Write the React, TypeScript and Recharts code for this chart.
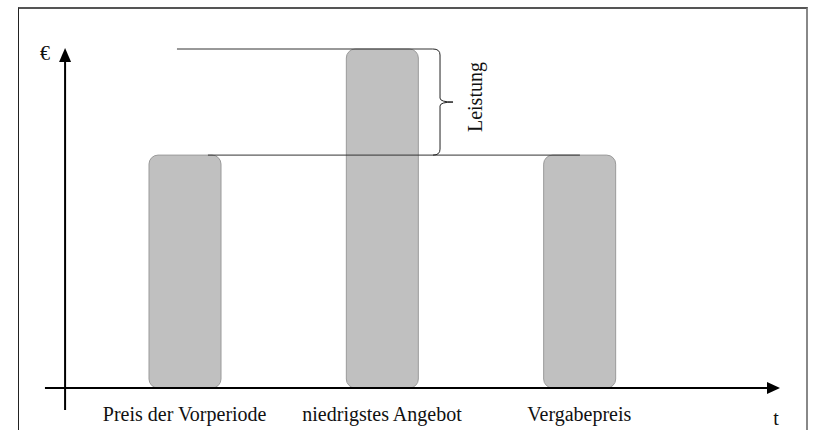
import React from 'react';
import { BarChart, Bar, XAxis, YAxis, ReferenceLine } from 'recharts';

// ---- data ----
const categories = ['Preis der Vorperiode', 'niedrigstes Angebot', 'Vergabepreis'];
const values = [68.7, 100, 68.7];
const basePrice = 68.7; // Preisniveau der Vorperiode / Vergabepreis
const topPrice = 100; // niedrigstes Angebot

// annotation positions on a hidden continuous x axis (category i centred at i)
const xAxisStart = -0.708;
const xAxisEnd = 3.017;
const yAxisPos = -0.606;
const yAxisBottom = -6.5;
const yAxisTop = 100.3;
const topLineStart = -0.039;
const topLineEnd = 1.258;
const baseLineStart = 0.118;
const baseLineEnd = 2.003;
const braceX = 1.294;

const data = categories.map((name, i) => ({ name, pos: i, value: values[i] }));

const W = 813;
const H = 430;
const FONT = '"Liberation Serif", "Times New Roman", serif';

const XArrow = (p: any) => {
  const { x1, y1, x2, y2 } = p;
  return (
    <g>
      <line x1={x1} y1={y1} x2={x2 - 10} y2={y2} stroke="#000" strokeWidth={2} />
      <polygon points={`${x2},${y2} ${x2 - 13},${y2 - 6} ${x2 - 13},${y2 + 6}`} fill="#000" />
      <text x={x2 - 4} y={y2 + 37} textAnchor="middle" fontFamily={FONT} fontSize={20} fill="#111">
        t
      </text>
    </g>
  );
};

const YArrow = (p: any) => {
  const { x1, y1, x2, y2 } = p;
  const bottom = Math.max(y1, y2);
  const top = Math.min(y1, y2);
  return (
    <g>
      <line x1={x1} y1={bottom} x2={x2} y2={top + 10} stroke="#000" strokeWidth={2} />
      <polygon points={`${x2},${top} ${x2 - 6},${top + 14} ${x2 + 6},${top + 14}`} fill="#000" />
      <text x={x2 - 20} y={top + 12} textAnchor="middle" fontFamily={FONT} fontSize={20} fill="#111">
        €
      </text>
    </g>
  );
};

const Brace = (p: any) => {
  const { x1, y1, y2 } = p;
  const x = x1;
  const t = Math.min(y1, y2);
  const b = Math.max(y1, y2);
  const m = (t + b) / 2;
  const d = `M ${x - 7} ${t} Q ${x} ${t} ${x} ${t + 6} L ${x} ${m - 4} Q ${x} ${m} ${x + 13} ${m} Q ${x} ${m} ${x} ${m + 4} L ${x} ${b - 6} Q ${x} ${b} ${x - 7} ${b}`;
  return (
    <g>
      <path d={d} fill="none" stroke="#222" strokeWidth={1} />
      <text
        x={x + 35}
        y={m - 5}
        textAnchor="middle"
        dominantBaseline="central"
        transform={`rotate(-90, ${x + 35}, ${m - 5})`}
        fontFamily={FONT}
        fontSize={20}
        fill="#111"
      >
        Leistung
      </text>
    </g>
  );
};

export default function App() {
  return (
    <div style={{ position: 'absolute', left: 0, top: 0, width: W, height: H, overflow: 'hidden', background: '#fff' }}>
      <div
        style={{
          position: 'absolute',
          left: 18,
          top: 7,
          width: 790,
          height: 450,
          borderTop: '2px solid #555',
          borderLeft: '1px solid #222',
          borderRight: '2px solid #888',
          boxSizing: 'border-box',
        }}
      />
      <div style={{ position: 'absolute', left: 0, top: 0 }}>
        <BarChart width={W} height={H} data={data} margin={{ top: 49, right: 135, bottom: 12, left: 86 }}>
          <XAxis
            xAxisId="cat"
            dataKey="name"
            axisLine={false}
            tickLine={false}
            tickSize={6}
            tickMargin={13}
            interval={0}
            height={30}
            tick={{ fontSize: 20, fill: '#111', fontFamily: FONT }}
          />
          <XAxis xAxisId="num" dataKey="pos" type="number" domain={[-0.5, 2.5]} hide allowDataOverflow />
          <YAxis yAxisId="v" type="number" domain={[0, 100]} hide />
          <ReferenceLine
            xAxisId="num"
            yAxisId="v"
            ifOverflow="visible"
            segment={[{ x: topLineStart, y: topPrice }, { x: topLineEnd, y: topPrice }]}
            stroke="#333"
            strokeWidth={1}
          />
          <ReferenceLine
            xAxisId="num"
            yAxisId="v"
            ifOverflow="visible"
            segment={[{ x: baseLineStart, y: basePrice }, { x: baseLineEnd, y: basePrice }]}
            stroke="#333"
            strokeWidth={1}
          />
          <Bar
            xAxisId="cat"
            yAxisId="v"
            dataKey="value"
            barSize={72}
            fill="#c0c0c0"
            stroke="#9a9a9a"
            strokeWidth={1}
            radius={9}
            isAnimationActive={false}
          />
          <ReferenceLine
            xAxisId="num"
            yAxisId="v"
            ifOverflow="visible"
            segment={[{ x: braceX, y: topPrice }, { x: braceX, y: basePrice }]}
            shape={Brace}
          />
          <ReferenceLine
            xAxisId="num"
            yAxisId="v"
            ifOverflow="visible"
            segment={[{ x: xAxisStart, y: 0 }, { x: xAxisEnd, y: 0 }]}
            shape={XArrow}
          />
          <ReferenceLine
            xAxisId="num"
            yAxisId="v"
            ifOverflow="visible"
            segment={[{ x: yAxisPos, y: yAxisBottom }, { x: yAxisPos, y: yAxisTop }]}
            shape={YArrow}
          />
        </BarChart>
      </div>
    </div>
  );
}
